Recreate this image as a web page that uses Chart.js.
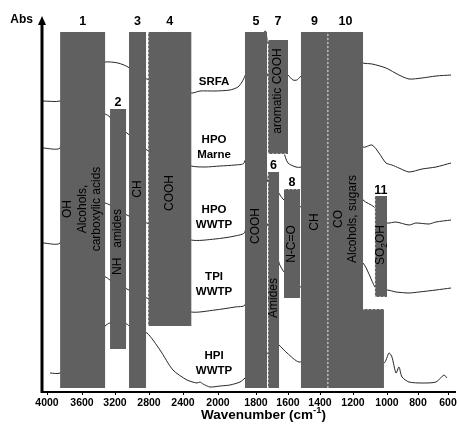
<!DOCTYPE html>
<html><head><meta charset="utf-8">
<script src="https://cdn.jsdelivr.net/npm/chart.js@4.4.0/dist/chart.umd.min.js"></script>
<style>html,body{margin:0;padding:0;background:#fff;}canvas{display:block;}</style>
</head><body>
<canvas id="c" width="459" height="424"></canvas>
<script>
// ---- wavenumber axis (FTIR scale changes below 2000 cm-1): tick values and their axis positions
const tickWavenumbers = [4000,3600,3200,2800,2400,2000,1800,1600,1400,1200,1000,800,600];
const tickPositions   = [5,40,73,107,141,176,214,246,278,311,345,376,406];

// ---- absorption bands
const bandNumbers = ['1','2','3','4','5','6','7','8','9','10','11'];
const bandFrom  = [3850,3260,3035,2810,1858,1725,1725,1625,1519,1352,1071];
const bandTo    = [3320,3070,2835,2305,1731,1656,1600,1525,1352,1141,1000];
const bandLow   = [4,43,4,66,4,4,238,94,4,4,95];
const bandHigh  = [360,283,360,360,360,220,352,203,360,360,196];
const bandExtTo   = [null,null,null,null,null,null,null,null,null,1018,null];
const bandExtHigh = [null,null,null,null,null,null,null,null,null,83,null];
// dotted white edges: L = left, B = bottom, T = top, E = top of extension
const bandDashedEdges = ['','','','L','','L','LB','T','','LE','LB'];
const bandLabels  = [['OH','Alcohols,','carboxylic acids'],['NH   amides'],['CH'],['COOH'],['COOH'],['Amides'],['aromatic COOH'],['N-C=O'],['CH'],['CO','Alcohols, sugars'],['SO_{2}OH']];
const bandLabelAbs  = [183,150,203,199,166,94,301,148,170,173,147];
const bandNumberAbs = [370,289,370,370,370,226,370,209,370,370,201];

// ---- spectra (wavenumber, absorbance in arbitrary offset units)
const srfaWn  = [4046,3851,3700,3500,3321,3165,3047,2950,2824,2306,2206,2034,1937,1895,1874,1858,1790,1760,1740,1728,1700,1650,1600,1569,1544,1525,1450,1400,1300,1200,1141,1088,1006,923,858,773,680,580];
const srfaAbs = [291,291,300,325,330,329,325,318,313,299,301,301,302,305,310,316,345,358,361,350,340,325,317,312,312,315,325,330,335,335,329,328,324,317,313,314,316,317];

const marneWn  = [4046,3851,3600,3321,3261,3200,3059,2950,2824,2306,2149,1989,1911,1863,1800,1720,1680,1625,1600,1550,1519,1450,1400,1300,1200,1141,1088,1047,1006,968,923,858,773,680,580];
const marneAbs = [244,244,285,278,275,265,259,250,242,226,225,226,227,229,270,320,290,240,229,225,225,235,245,265,270,245,247,239,229,227,224,220,223,225,229];

const hpoWwtpWn  = [4046,3851,3600,3321,3261,3200,3059,2950,2824,2306,2034,1911,1858,1790,1740,1725,1680,1650,1625,1580,1525,1450,1400,1300,1200,1141,1076,1040,1000,942,858,813,727,680,580];
const hpoWwtpAbs = [149,149,195,189,187,182,177,172,169,152,153,156,160,240,225,210,205,197,192,190,185,195,200,205,210,192,185,175,169,170,167,169,168,170,172];

const tpiWn  = [3800,3500,3321,3261,3059,2950,2824,2306,2034,1911,1858,1790,1720,1680,1656,1625,1575,1525,1450,1400,1300,1200,1141,1071,1040,1000,942,858,793,680,580];
const tpiAbs = [85,105,115,112,103,98,94,80,82,85,87,130,170,150,129,120,112,105,110,115,125,130,129,105,100,102,100,99,100,102,104];

const hpiWn  = [3966,3851,3600,3321,3261,3059,3035,2950,2824,2671,2518,2354,2240,2206,2171,2091,1989,1937,1884,1858,1790,1720,1680,1656,1606,1531,1450,1400,1300,1200,1100,1018,987,968,942,923,903,858,773,680,627,607];
const hpiAbs = [19,19,40,66,69,68,66,62,59,42,22,12,9,10,8,5,6,7,10,14,30,40,50,47,39,30,35,40,50,55,40,29,39,35,19,25,15,10,9,10,17,14];

const sampleNames = [['SRFA'],['HPO','Marne'],['HPO','WWTP'],['TPI','WWTP'],['HPI','WWTP']];
const sampleLabelWn  = [2045,2045,2045,2045,2045];
const sampleLabelAbs = [310,244.5,174.5,108,29];

// ---- helpers
function wnToPos(wn){
  const W = tickWavenumbers, P = tickPositions;
  let i;
  if (wn >= W[0]) i = 0;
  else if (wn <= W[W.length-1]) i = W.length-2;
  else { i = 0; while (!(wn <= W[i] && wn >= W[i+1])) i++; }
  const t = (W[i]-wn)/(W[i]-W[i+1]);
  return P[i] + t*(P[i+1]-P[i]);
}
const FONT = '"Liberation Sans", Arial, Helvetica, sans-serif';
const BAR = '#606060';

const datasets = [];
const spectra = [[srfaWn,srfaAbs],[marneWn,marneAbs],[hpoWwtpWn,hpoWwtpAbs],[tpiWn,tpiAbs],[hpiWn,hpiAbs]];
for (let b = 0; b < bandNumbers.length; b++) {
  const f = bandFrom[b], t = bandTo[b], lo = bandLow[b], hi = bandHigh[b];
  const pts = [[f,lo],[f,hi],[t,hi]];
  if (bandExtTo[b] !== null) pts.push([t,bandExtHigh[b]],[bandExtTo[b],bandExtHigh[b]],[bandExtTo[b],lo]);
  else pts.push([t,lo]);
  pts.push([f,lo]);
  datasets.push({
    type:'line', data: pts.map(([w,a]) => ({x: wnToPos(w), y: a})),
    fill:'shape', backgroundColor: BAR, borderColor:'rgba(0,0,0,0)', borderWidth: 1,
    pointRadius: 0, tension: 0, order: 1
  });
  const edges = [];
  for (const e of bandDashedEdges[b]) {
    if (e === 'L') edges.push([[f,lo],[f,hi]]);
    if (e === 'B') edges.push([[f,lo],[t,lo]]);
    if (e === 'T') edges.push([[f,hi],[t,hi]]);
    if (e === 'E') edges.push([[t,bandExtHigh[b]],[bandExtTo[b],bandExtHigh[b]]]);
  }
  edges.forEach(seg => datasets.push({
    type:'line', data: seg.map(([w,a]) => ({x: wnToPos(w), y: a})),
    fill:false, borderColor:'rgba(255,255,255,0.85)', borderWidth:1, borderDash:[2,2],
    pointRadius:0, tension:0, order:0
  }));
}
spectra.forEach(([wn, ab]) => {
  datasets.push({
    type:'line', data: wn.map((w,i) => ({x: wnToPos(w), y: ab[i]})),
    fill:false, borderColor:'#262626', borderWidth:1, pointRadius:0, tension:0.25, order:2
  });
});

function parseRuns(s){
  const runs = []; const re = /(_\{([^}]*)\}|\^\{([^}]*)\})/g; let last = 0, m;
  while ((m = re.exec(s))) {
    if (m.index > last) runs.push({t: s.slice(last, m.index), k: 0});
    if (m[2] !== undefined) runs.push({t: m[2], k: -1}); else runs.push({t: m[3], k: 1});
    last = re.lastIndex;
  }
  if (last < s.length) runs.push({t: s.slice(last), k: 0});
  return runs;
}
function drawRuns(ctx, s, x, y, size, weight){
  const runs = parseRuns(s);
  const fnt = k => `${weight} ${k ? size*0.7 : size}px ${FONT}`;
  let total = 0;
  runs.forEach(r => { ctx.font = fnt(r.k); r.w = ctx.measureText(r.t).width; total += r.w; });
  let cx = x - total/2;
  ctx.textAlign = 'left';
  runs.forEach(r => {
    ctx.font = fnt(r.k);
    ctx.fillText(r.t, cx, y + (r.k === -1 ? size*0.3 : r.k === 1 ? -size*0.35 : 0));
    cx += r.w;
  });
}

const decor = {
  id:'decor',
  afterDatasetsDraw(chart){
    const ctx = chart.ctx, xs = chart.scales.x, ys = chart.scales.y;
    ctx.save();
    ctx.fillStyle = '#000';
    ctx.textBaseline = 'middle';
    for (let b = 0; b < bandNumbers.length; b++) {
      const cx = (xs.getPixelForValue(wnToPos(bandFrom[b])) + xs.getPixelForValue(wnToPos(bandTo[b]))) / 2;
      drawRuns(ctx, bandNumbers[b], cx, ys.getPixelForValue(bandNumberAbs[b]), 12.5, 'bold');
      const cy = ys.getPixelForValue(bandLabelAbs[b]);
      const lines = bandLabels[b];
      ctx.save(); ctx.translate(cx, cy); ctx.rotate(-Math.PI/2);
      lines.forEach((ln, i) => drawRuns(ctx, ln, 0, (i - (lines.length-1)/2) * 14.5, 12, 'normal'));
      ctx.restore();
    }
    sampleNames.forEach((lines, i) => {
      const cx = xs.getPixelForValue(wnToPos(sampleLabelWn[i]));
      const cy = ys.getPixelForValue(sampleLabelAbs[i]);
      lines.forEach((ln, j) => drawRuns(ctx, ln, cx, cy + (j - (lines.length-1)/2) * 15, 11.5, 'bold'));
    });
    const ax = chart.chartArea.left, bot = chart.chartArea.bottom, top = chart.chartArea.top;
    ctx.strokeStyle = '#000'; ctx.lineWidth = 3;
    ctx.beginPath(); ctx.moveTo(ax, bot + 1); ctx.lineTo(ax, top + 7); ctx.stroke();
    ctx.beginPath(); ctx.moveTo(ax, top - 1); ctx.lineTo(ax - 4, top + 8); ctx.lineTo(ax + 4, top + 8); ctx.closePath(); ctx.fill();
    ctx.font = `bold 12px ${FONT}`; ctx.textAlign = 'right';
    ctx.fillText('Abs', ax - 9, top + 3);
    drawRuns(ctx, 'Wavenumber (cm^{-1})', (chart.chartArea.left + chart.chartArea.right)/2 + 15, 415, 13.5, 'bold');
    ctx.restore();
  }
};

new Chart(document.getElementById('c'), {
  type:'line',
  data:{ datasets },
  options:{
    responsive:false, animation:false, events:[],
    layout:{ padding:{ left:42, right:4, top:17, bottom:0 } },
    plugins:{ legend:{display:false}, tooltip:{enabled:false} },
    scales:{
      x:{
        type:'linear', min:0, max:413,
        afterBuildTicks: ax => { ax.ticks = tickPositions.map(v => ({value: v})); },
        afterFit: s => { s.height = 32; },
        ticks:{ callback:(v,i) => String(tickWavenumbers[i]), autoSkip:false, maxRotation:0, padding:2, color:'#000',
                font:{ family: FONT, size:10.5, weight:'bold' } },
        grid:{ display:true, drawOnChartArea:false, drawTicks:true, tickLength:3, color:'#000', lineWidth:1 },
        border:{ display:true, color:'#000', width:2 }
      },
      y:{ display:false, min:0, max:375 }
    }
  },
  plugins:[decor]
});
</script>
</body></html>
